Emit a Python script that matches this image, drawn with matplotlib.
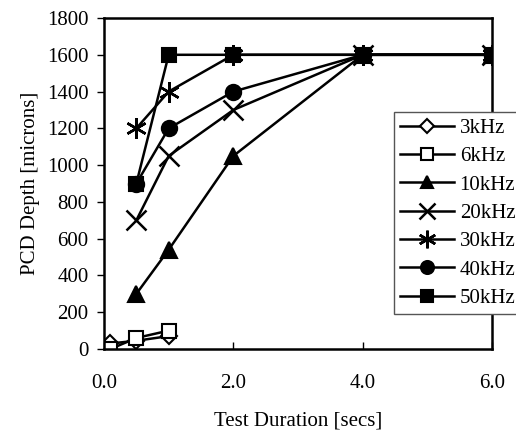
"""PCD depth versus test duration for several frequencies."""

import matplotlib
matplotlib.use("Agg")
import matplotlib.pyplot as plt
from matplotlib.ticker import FormatStrFormatter

plt.rcParams["font.family"] = ["Liberation Serif", "DejaVu Serif"]

# data
labels = ["3kHz", "6kHz", "10kHz", "20kHz", "30kHz", "40kHz", "50kHz"]
durations = [
    [0.1, 0.5, 1.0],
    [0.1, 0.5, 1.0],
    [0.5, 1.0, 2.0, 4.0, 6.0],
    [0.5, 1.0, 2.0, 4.0, 6.0],
    [0.5, 1.0, 2.0, 4.0, 6.0],
    [0.5, 1.0, 2.0, 4.0, 6.0],
    [0.5, 1.0, 2.0, 4.0, 6.0],
]
depths = [
    [30, 45, 70],
    [0, 60, 100],
    [300, 540, 1050, 1600, 1600],
    [700, 1050, 1300, 1600, 1600],
    [1200, 1400, 1600, 1600, 1600],
    [900, 1200, 1400, 1600, 1600],
    [900, 1600, 1600, 1600, 1600],
]

styles = [
    dict(marker="D", mfc="white", ms=8),
    dict(marker="s", mfc="white", ms=10.5),
    dict(marker="^", mfc="black", ms=11),
    dict(marker="x", mfc="black", ms=14, mew=1.8),
    dict(marker=(6, 2, 0), mfc="black", ms=15, mew=1.8),
    dict(marker="o", mfc="black", ms=11),
    dict(marker="s", mfc="black", ms=10.5),
]

FS = 15

fig = plt.figure(figsize=(5.16, 4.32), dpi=100)
ax = fig.add_axes([0.2016, 0.1921, 0.7519, 0.7662])

for lab, xs, ys, st in zip(labels, durations, depths, styles):
    ax.plot(xs, ys, color="black", linewidth=1.8, mec="black",
            mew=st.pop("mew", 1.5), label=lab, **st)

ax.set_xlim(0, 6)
ax.set_ylim(0, 1800)
ax.set_xticks([0, 2, 4, 6])
ax.set_yticks(range(0, 1801, 200))
ax.xaxis.set_major_formatter(FormatStrFormatter("%.1f"))
ax.tick_params(axis="x", direction="in", length=5, width=1, labelsize=FS, pad=18)
ax.tick_params(axis="y", direction="out", length=5, width=1, labelsize=FS, pad=6)
for sp in ax.spines.values():
    sp.set_linewidth(1.8)

ax.set_xlabel("Test Duration [secs]", fontsize=FS, labelpad=13)
ax.set_ylabel("PCD Depth [microns]", fontsize=FS, labelpad=5)

leg = ax.legend(loc="upper left", bbox_to_anchor=(0.7636, 0.7407),
                bbox_transform=fig.transFigure, borderaxespad=0,
                fancybox=False, edgecolor="#555555", framealpha=1,
                fontsize=FS, handlelength=2.6, handletextpad=0.25,
                labelspacing=0.42, borderpad=0.3, markerscale=0.85)
leg.get_frame().set_linewidth(1.0)

fig.savefig("out.png", dpi=100)
